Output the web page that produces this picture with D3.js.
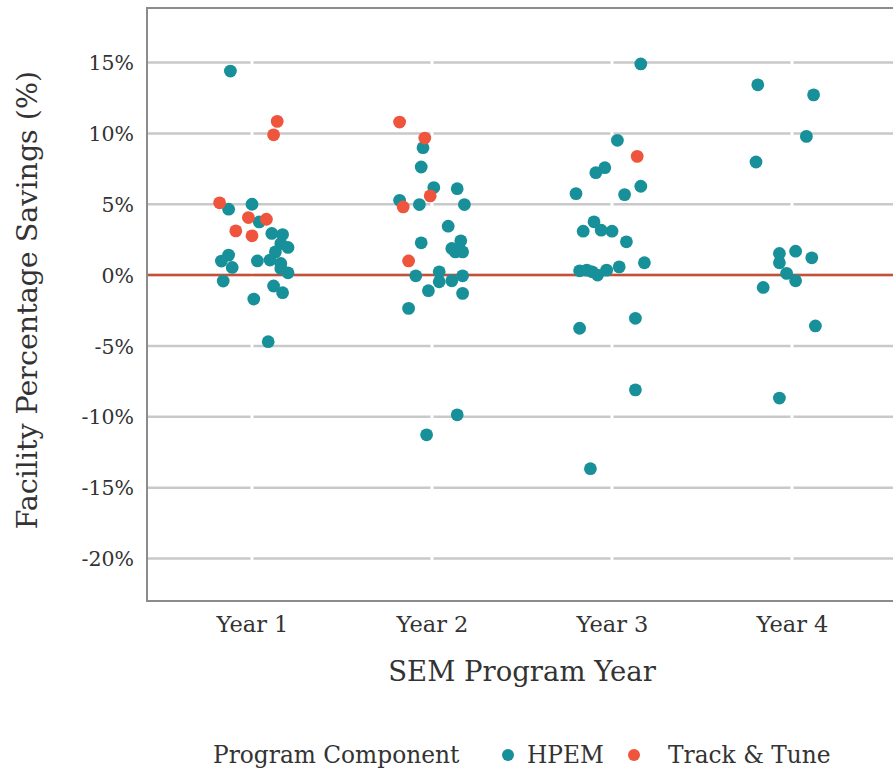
<!DOCTYPE html>
<html>
<head>
<meta charset="utf-8">
<script src="https://cdn.jsdelivr.net/npm/d3@7"></script>
<style>
  html, body { margin: 0; padding: 0; background: #fff; }
  svg { display: block; }
  text { font-family: "DejaVu Serif", "Liberation Serif", serif; fill: #333; }
</style>
</head>
<body>
<svg id="chart" width="893" height="772"></svg>
<script>
// ---- Data ----
const categories = ["Year 1", "Year 2", "Year 3", "Year 4"];
const seriesNames = ["HPEM", "Track & Tune"];
const yTicks = [-20, -15, -10, -5, 0, 5, 10, 15];
const yTickLabels = ["-20%", "-15%", "-10%", "-5%", "0%", "5%", "10%", "15%"];

// [category, savings %, horizontal jitter (fraction of category step)]
const hpemPoints = [
  ["Year 1", 14.4, -0.12], ["Year 1", 4.65, -0.13], ["Year 1", 5.0, 0.0], ["Year 1", 3.75, 0.04],
  ["Year 1", 2.94, 0.11], ["Year 1", 2.86, 0.17], ["Year 1", 2.23, 0.16], ["Year 1", 1.95, 0.2],
  ["Year 1", 1.64, 0.13], ["Year 1", 1.06, 0.1], ["Year 1", 0.82, 0.16], ["Year 1", 1.41, -0.13],
  ["Year 1", 0.99, -0.17], ["Year 1", 0.54, -0.11], ["Year 1", 1.0, 0.03], ["Year 1", 0.47, 0.16],
  ["Year 1", 0.16, 0.2], ["Year 1", -0.42, -0.16], ["Year 1", -0.77, 0.12], ["Year 1", -1.24, 0.17],
  ["Year 1", -1.69, 0.01], ["Year 1", -4.7, 0.09],
  ["Year 2", 8.99, -0.05], ["Year 2", 7.63, -0.06], ["Year 2", 6.18, 0.01], ["Year 2", 6.1, 0.14],
  ["Year 2", 5.28, -0.18], ["Year 2", 4.98, -0.07], ["Year 2", 4.98, 0.18], ["Year 2", 3.45, 0.09],
  ["Year 2", 2.28, -0.06], ["Year 2", 2.42, 0.16], ["Year 2", 1.88, 0.11], ["Year 2", 1.64, 0.13],
  ["Year 2", 1.64, 0.17], ["Year 2", -0.05, -0.09], ["Year 2", 0.23, 0.04], ["Year 2", -0.47, 0.04],
  ["Year 2", -0.4, 0.11], ["Year 2", -0.05, 0.17], ["Year 2", -1.1, -0.02], ["Year 2", -1.29, 0.17],
  ["Year 2", -2.35, -0.13], ["Year 2", -9.86, 0.14], ["Year 2", -11.27, -0.03],
  ["Year 3", 14.9, 0.16], ["Year 3", 9.51, 0.03], ["Year 3", 7.58, -0.04], ["Year 3", 7.23, -0.09],
  ["Year 3", 5.75, -0.2], ["Year 3", 5.68, 0.07], ["Year 3", 6.27, 0.16], ["Year 3", 3.76, -0.1],
  ["Year 3", 3.1, -0.16], ["Year 3", 3.17, -0.06], ["Year 3", 3.1, 0.0], ["Year 3", 2.35, 0.08],
  ["Year 3", 0.87, 0.18], ["Year 3", 0.58, 0.04], ["Year 3", 0.3, -0.18], ["Year 3", 0.35, -0.14],
  ["Year 3", 0.0, -0.08], ["Year 3", 0.35, -0.03], ["Year 3", 0.23, -0.11], ["Year 3", -3.05, 0.13],
  ["Year 3", -3.75, -0.18], ["Year 3", -8.1, 0.13], ["Year 3", -13.66, -0.12],
  ["Year 4", 13.43, -0.19], ["Year 4", 12.72, 0.12], ["Year 4", 9.79, 0.08], ["Year 4", 7.98, -0.2],
  ["Year 4", 1.53, -0.07], ["Year 4", 1.69, 0.02], ["Year 4", 1.22, 0.11], ["Year 4", 0.87, -0.07],
  ["Year 4", 0.12, -0.03], ["Year 4", -0.4, 0.02], ["Year 4", -0.87, -0.16], ["Year 4", -3.59, 0.13],
  ["Year 4", -8.68, -0.07]
];

const trackTunePoints = [
  ["Year 1", 10.85, 0.14], ["Year 1", 9.9, 0.12], ["Year 1", 5.1, -0.18], ["Year 1", 4.06, -0.02],
  ["Year 1", 3.94, 0.08], ["Year 1", 3.12, -0.09], ["Year 1", 2.77, 0.0],
  ["Year 2", 10.8, -0.18], ["Year 2", 9.67, -0.04], ["Year 2", 5.59, -0.01], ["Year 2", 4.81, -0.16],
  ["Year 2", 1.0, -0.13],
  ["Year 3", 8.38, 0.14]
];

// ---- Styles ----
const colors = { "HPEM": "#17909a", "Track & Tune": "#ee553c" };

const svg = d3.select("#chart");
const W = 893, H = 772;
const panel = { left: 147, top: 8, bottom: 601, right: 900 };

const x = d3.scalePoint().domain(categories).range([252, 792]);
const jitter = d3.scaleLinear().domain([0, 1]).range([0, x.step()]);
const y = d3.scaleLinear().domain([-23, 18.85]).range([panel.bottom, panel.top]);

// Horizontal gridlines
svg.append("g").selectAll("line").data(yTicks).join("line")
  .attr("x1", panel.left).attr("x2", W)
  .attr("y1", d => y(d)).attr("y2", d => y(d))
  .attr("stroke", "#c9c9c9").attr("stroke-width", 2.5);

// White vertical breaks at category centres
svg.append("g").selectAll("line").data(categories).join("line")
  .attr("x1", d => x(d)).attr("x2", d => x(d))
  .attr("y1", panel.top).attr("y2", panel.bottom)
  .attr("stroke", "#fff").attr("stroke-width", 3);

// Zero reference line
svg.append("line")
  .attr("x1", panel.left).attr("x2", W)
  .attr("y1", y(0)).attr("y2", y(0))
  .attr("stroke", "#c5503a").attr("stroke-width", 2.5);

// Panel frame (left, top, bottom)
svg.append("path")
  .attr("d", `M${W + 5},${panel.top}H${panel.left}V${panel.bottom}H${W + 5}`)
  .attr("fill", "none").attr("stroke", "#8c8c8c").attr("stroke-width", 2);

// Points
function drawPoints(data, name) {
  svg.append("g").selectAll("circle").data(data).join("circle")
    .attr("cx", d => x(d[0]) + jitter(d[2]))
    .attr("cy", d => y(d[1]))
    .attr("r", 6.4)
    .attr("fill", colors[name]);
}
drawPoints(hpemPoints, "HPEM");
drawPoints(trackTunePoints, "Track & Tune");

// Y axis labels
const yAxis = d3.axisLeft(y).tickValues(yTicks)
  .tickFormat((d, i) => yTickLabels[i]).tickSize(0).tickPadding(0);
const gy = svg.append("g").attr("transform", `translate(134,0)`).call(yAxis);
gy.select(".domain").remove();
gy.selectAll("text").attr("font-size", 20.5).attr("font-family", "DejaVu Serif").attr("fill", "#3a3a3a")
  .attr("dy", "0.35em");

// X axis labels
const xAxis = d3.axisBottom(x).tickSize(0).tickPadding(0);
const gx = svg.append("g").attr("transform", `translate(0,616)`).call(xAxis);
gx.select(".domain").remove();
gx.selectAll("text").attr("font-size", 22.5).attr("font-family", "DejaVu Serif").attr("fill", "#3a3a3a")
  .attr("dy", "0.71em");

// Axis titles
svg.append("text")
  .attr("x", 522).attr("y", 681)
  .attr("text-anchor", "middle")
  .attr("font-size", 27.5).attr("fill", "#2a2a2a")
  .text("SEM Program Year");

svg.append("text")
  .attr("transform", "translate(37,300) rotate(-90)")
  .attr("text-anchor", "middle")
  .attr("font-size", 28.5).attr("fill", "#2a2a2a")
  .text("Facility Percentage Savings (%)");

// Legend
const lg = svg.append("g");
lg.append("text").attr("x", 213).attr("y", 763).attr("font-size", 23.3).attr("fill", "#2a2a2a")
  .text("Program Component");
const legendItems = [
  { name: "HPEM", cx: 508, tx: 527 },
  { name: "Track & Tune", cx: 634, tx: 668 }
];
legendItems.forEach(it => {
  lg.append("circle").attr("cx", it.cx).attr("cy", 755).attr("r", 6).attr("fill", colors[it.name]);
  lg.append("text").attr("x", it.tx).attr("y", 763).attr("font-size", 23.3).attr("fill", "#2a2a2a")
    .text(it.name);
});
</script>
</body>
</html>
